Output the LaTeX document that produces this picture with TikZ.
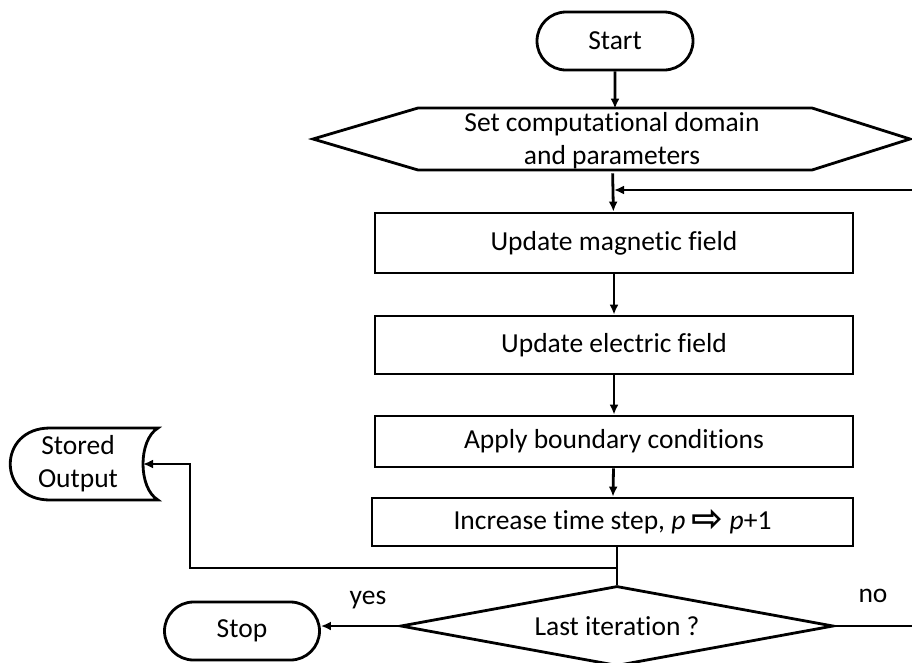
\documentclass[tikz,border=0pt]{standalone}
\usepackage{fontspec}
\setmainfont{Carlito}[Ligatures=NoCommon]
\newfontfamily\arrowfont{DejaVu Sans}
\usepackage{tikz}
\usetikzlibrary{arrows.meta,shapes.geometric,shapes.misc,calc}

\tikzset{
  terminal/.style={draw,rounded rectangle,minimum width=156pt,minimum height=58pt,inner sep=0pt},
  process/.style={draw,rectangle,minimum width=478pt,inner sep=0pt},
  decision/.style={draw,diamond,aspect=5.4,minimum width=433pt,minimum height=80pt,inner sep=0pt},
  textonly/.style={align=center,inner sep=0pt},
}

\begin{document}
\begin{tikzpicture}[x=1pt,y=-1pt,>={Latex[length=10pt,width=9pt]},line width=2.8pt,line join=miter,
  font=\fontsize{27.5}{33}\selectfont]
\useasboundingbox (0,0) rectangle (912,662);
%%
\node (start) at (615,41) [terminal] {Start};
\draw (313,139) -- (418,108) -- (812,108) -- (910,139) -- (812,170) -- (418,170) -- cycle;
\node (setup) at (612,141) [textonly,minimum width=597pt,minimum height=62pt] {Set computational domain\\and parameters};
\node (magnetic) at (614,243) [process,minimum height=60pt] {Update magnetic field};
\node (electric) at (614,345) [process,minimum height=58pt] {Update electric field};
\node (boundary) at (614,441.5) [process,minimum height=51pt] {Apply boundary conditions};
\node (timestep) at (612.5,522) [process,minimum width=481pt,minimum height=48pt] {Increase time step, \textit{p} \raisebox{-2pt}{\arrowfont\bfseries\fontsize{38}{33}\selectfont ⇨} \textit{p}+1};
\node (last) at (617,626) [decision] {Last iteration ?};
\node (stop) at (242,631) [terminal,minimum width=155pt] {Stop};
% stored output symbol
\draw (50,428) -- (158,428) .. controls (138,440) and (138,488) .. (158,500)
  -- (50,500) .. controls (-3,500) and (-3,428) .. (50,428);
\node (stored) at (78,464) [textonly] {Stored\\Output};
\coordinate (storedin) at (143,464);
\coordinate (loopin) at (912,190);
\coordinate (noout) at (912,626);
\coordinate (junc) at (617,568);
%
\draw [->] (start) -- (start |- setup.north);
\draw [->] (setup) -- (magnetic);
\draw [->] (loopin) -- (magnetic.north |- loopin);
\draw [->] (magnetic) -- (electric);
\draw [->] (electric) -- (boundary);
\draw [->] (boundary) -- (timestep);
\draw (timestep.south -| last.north) -- (last.north);
\draw [->] (junc) -- (190,568) -- (190,464) -- (storedin);
\draw [->] (last.west) -- (last.west -| stop.east);
\draw (last.east) -- (noout);
\node (yes) at (368,600) [textonly] {yes};
\node (no) at (873,596) [textonly] {no};
%
\end{tikzpicture}
\end{document}
